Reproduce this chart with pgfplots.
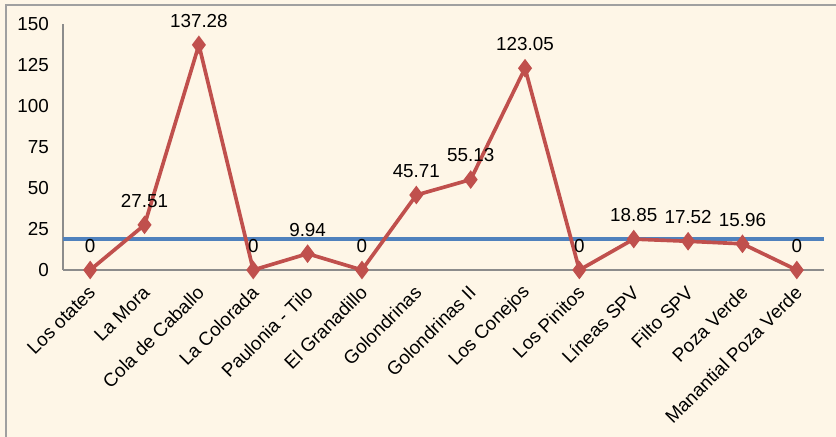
\documentclass[border=0pt]{standalone}
\usepackage{pgfplots}
\pgfplotsset{compat=1.18}
\usepackage{fontspec}
\setmainfont{Liberation Sans}
\definecolor{bgcream}{HTML}{FEF6E7}
\definecolor{framegray}{HTML}{A0A0A0}
\definecolor{serred}{HTML}{C0504D}
\definecolor{serblue}{HTML}{4F81BD}
\definecolor{axgray}{HTML}{8C8C8C}

\begin{document}
\begin{tikzpicture}
% page is 836 x 437 px at 0.6pt per px
\clip (0,0) rectangle (501.6pt,262.2pt);
\fill[bgcream] (0,0) rectangle (501.6pt,262.2pt);
\draw[framegray, line width=1.2pt] (3.6pt,-20pt) -- (3.6pt,259.2pt) -- (520pt,259.2pt);
\begin{axis}[
    at={(37.8pt,100.2pt)}, anchor=south west,
    scale only axis,
    width=456.6pt, height=147.6pt,
    xmin=-0.5, xmax=13.5,
    ymin=0, ymax=150,
    axis lines*=left,
    axis line style={axgray, line width=0.9pt},
    xtick={0,...,13},
    ytick={0,25,...,150},
    major tick length=0pt,
    xticklabels={Los otates,La Mora,Cola de Caballo,La Colorada,Paulonia - Tilo,El Granadillo,Golondrinas,Golondrinas II,Los Conejos,Los Pinitos,Líneas SPV,Filto SPV,Poza Verde,Manantial Poza Verde},
    xticklabel style={rotate=45, anchor=east, xshift=-4pt, yshift=-9pt},
    yticklabel style={xshift=-5pt},
    tick label style={font=\fontsize{11.3}{13}\selectfont, black},
    /pgf/number format/assume math mode=true,
    clip=false,
]
\addplot[serblue, line width=2.2pt, forget plot] coordinates {(-0.5,19) (13.5,19)};
\addplot[serred, line width=2.2pt, mark=diamond*, mark size=3.8pt,
    mark options={solid, fill=serred},
    point meta=explicit symbolic,
    nodes near coords,
    every node near coord/.style={anchor=center, yshift=14.5pt, black, font=\fontsize{11.3}{13}\selectfont},
] table[meta=lab] {
x y lab
0 0 0
1 27.51 27.51
2 137.28 137.28
3 0 0
4 9.94 9.94
5 0 0
6 45.71 45.71
7 55.13 55.13
8 123.05 123.05
9 0 0
10 18.85 18.85
11 17.52 17.52
12 15.96 15.96
13 0 0
};
\end{axis}
\end{tikzpicture}
\end{document}
